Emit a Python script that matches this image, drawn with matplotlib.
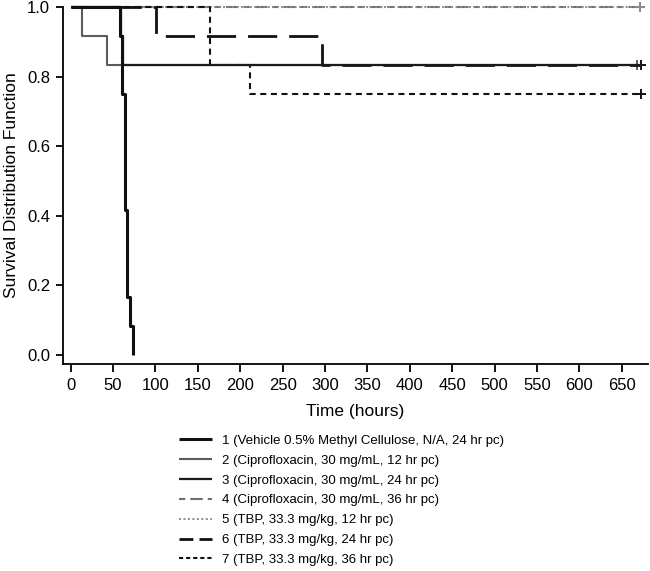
import matplotlib
matplotlib.use("Agg")
import matplotlib.pyplot as plt
from matplotlib.lines import Line2D

plt.rcParams["font.family"] = ["Liberation Sans", "DejaVu Sans"]

# ---- data ----
labels = [
    "1 (Vehicle 0.5% Methyl Cellulose, N/A, 24 hr pc)",
    "2 (Ciprofloxacin, 30 mg/mL, 12 hr pc)",
    "3 (Ciprofloxacin, 30 mg/mL, 24 hr pc)",
    "4 (Ciprofloxacin, 30 mg/mL, 36 hr pc)",
    "5 (TBP, 33.3 mg/kg, 12 hr pc)",
    "6 (TBP, 33.3 mg/kg, 24 hr pc)",
    "7 (TBP, 33.3 mg/kg, 36 hr pc)",
]
g1_t = [0, 58, 61, 64, 67, 70, 73]
g1_s = [1.0, 0.917, 0.75, 0.417, 0.167, 0.083, 0.0]
g2_t = [0, 13, 43, 668]
g2_s = [1.0, 0.917, 0.833, 0.833]
g3_t = [0, 59, 62, 673]
g3_s = [1.0, 0.917, 0.833, 0.833]
g4_t = [0, 672]
g4_s = [1.0, 1.0]
g5_t = [0, 672]
g5_s = [1.0, 1.0]
g6_t = [0, 101, 296, 673]
g6_s = [1.0, 0.917, 0.833, 0.833]
g7_t = [0, 164, 211, 673]
g7_s = [1.0, 0.833, 0.75, 0.75]

# censored at end of study (group 1 has none)
censor_t = [None, 668, 673, 672, 672, 673, 673]

x_ticks = list(range(0, 651, 50))
y_ticks = [0.0, 0.2, 0.4, 0.6, 0.8, 1.0]

# ---- styles: (color, lw, dashes in plot, dashes in legend) ----
styles = [
    ("#111111", 2.2, None, None),
    ("#5c5c5c", 1.5, None, None),
    ("#1a1a1a", 1.6, None, None),
    ("#707070", 1.5, (3, 2.4, 6, 2.4), (3, 2.4, 6, 2.4)),
    ("#8c8c8c", 1.4, (1, 1.3), (1, 1.3)),
    ("#111111", 2.0, (10.5, 4.3), (5, 2.2)),
    ("#111111", 1.5, (2.9, 2.2), (2, 1.4)),
]

series = [(g1_t, g1_s), (g2_t, g2_s), (g3_t, g3_s), (g4_t, g4_s),
          (g5_t, g5_s), (g6_t, g6_s), (g7_t, g7_s)]

fig = plt.figure(figsize=(6.5, 5.71), dpi=100)
ax = fig.add_axes([0.0965, 0.3625, 0.9005, 0.625])

draw_order = [3, 4, 1, 6, 5, 2, 0]
for i in draw_order:
    t, s = series[i]
    color, lw, dsh, _ = styles[i]
    line, = ax.step(t, s, where="post", color=color, lw=lw, clip_on=False,
                    solid_capstyle="butt", dash_capstyle="butt")
    if dsh is not None:
        line.set_dashes(dsh)
    if censor_t[i] is not None:
        ax.plot([censor_t[i]], [s[-1]], marker="+", ms=7, mew=1.4,
                color=color, clip_on=False, ls="none")

ax.set_xlim(-9.4, 681)
ax.set_ylim(-0.026, 1.0)
ax.set_xticks(x_ticks)
ax.set_yticks(y_ticks)
ax.set_yticklabels(["%.1f" % v for v in y_ticks])
for side in ["top", "right"]:
    ax.spines[side].set_visible(False)
for side in ["left", "bottom"]:
    ax.spines[side].set_linewidth(1.3)
ax.tick_params(axis="both", labelsize=12, width=1.3)
ax.tick_params(axis="y", length=5, pad=4)
ax.tick_params(axis="x", length=6, pad=4)
ax.set_xlabel("Time (hours)", fontsize=12.5, labelpad=8)
ax.set_ylabel("Survival Distribution Function", fontsize=12.5, labelpad=6)

handles = []
for color, lw, _, ldsh in styles:
    h = Line2D([], [], color=color, lw=lw, solid_capstyle="butt",
               dash_capstyle="butt")
    if ldsh is not None:
        h.set_dashes(ldsh)
    handles.append(h)

fig.legend(handles, labels, loc="upper left", bbox_to_anchor=(179 / 650, 0.239),
           frameon=False, fontsize=9.5, handlelength=2.5, handletextpad=0.76,
           labelspacing=0.58, borderpad=0, borderaxespad=0)

fig.savefig("out.png", dpi=100)
